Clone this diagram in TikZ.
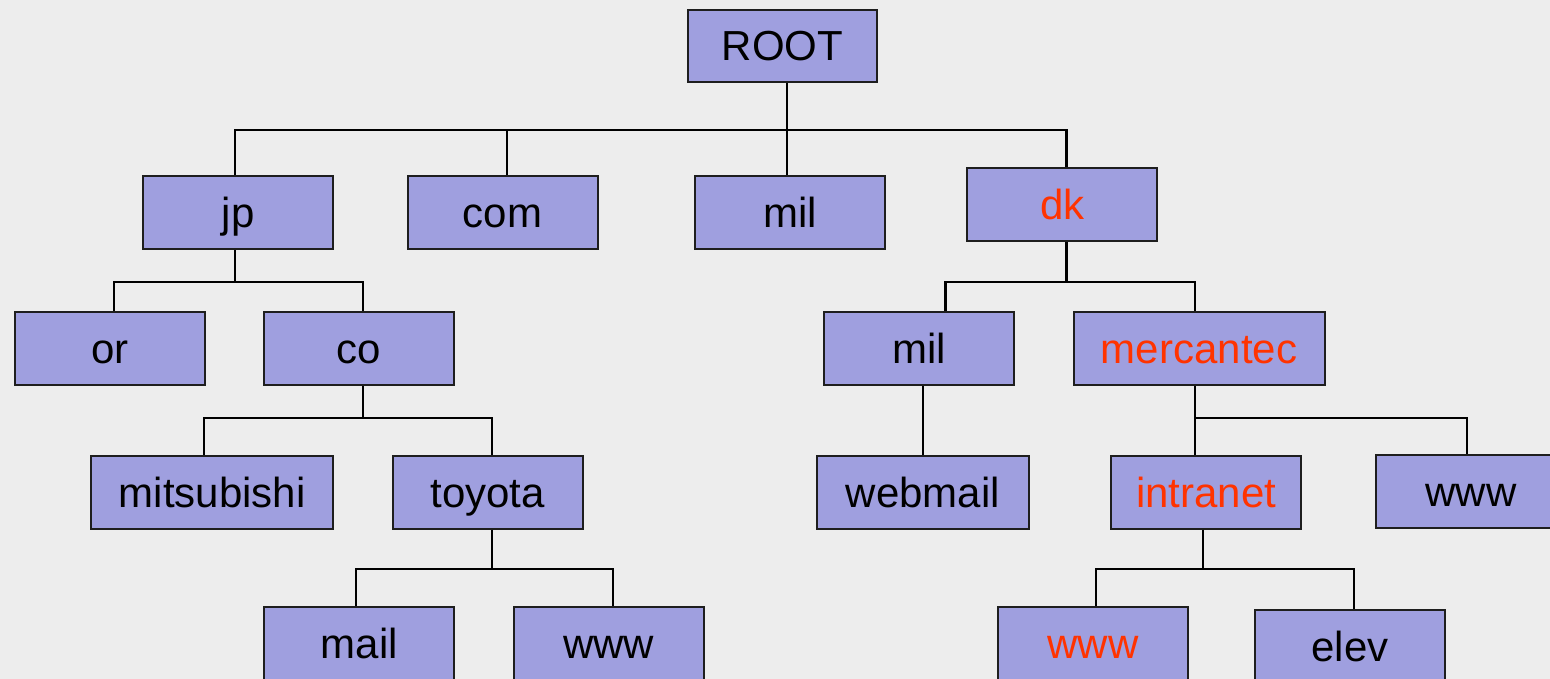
\documentclass[tikz,border=0pt]{standalone}
\usepackage{fontspec}
\setmainfont{Liberation Sans}
\definecolor{bgcol}{RGB}{237,237,237}
\definecolor{boxfill}{RGB}{159,159,223}
\definecolor{boxline}{RGB}{30,30,30}
\definecolor{hot}{RGB}{255,51,0}
\tikzset{
  dnsbox/.style={draw=boxline, line width=2pt, fill=boxfill, rectangle,
    minimum width=190pt, minimum height=73pt, inner sep=0pt,
    text height=30pt, text depth=0pt, font=\fontsize{42}{50}\selectfont},
  hl/.style={text=hot},
  link/.style={draw=black, line width=2.2pt}
}
\begin{document}
\begin{tikzpicture}[x=1pt,y=-1pt]
\useasboundingbox (0,0) rectangle (1550,679);
\clip (0,0) rectangle (1550,679);
\fill[bgcol] (0,0) rectangle (1550,679);

% nodes
\node[dnsbox, minimum width=189pt, minimum height=72pt] (root) at (782.5,46) {ROOT};
\node[dnsbox] (jp)   at (238.3,212.5) {jp};
\node[dnsbox] (com)  at (502.5,212.2) {com};
\node[dnsbox] (mila) at (790.3,212.1) {mil};
\node[dnsbox] (dk)   at (1062.3,204.7) {\textcolor{hot}{dk}};
\node[dnsbox] (or)   at (109.7,348.7) {or};
\node[dnsbox] (co)   at (359,348.7) {co};
\node[dnsbox, minimum width=242pt] (mits) at (212.2,492) {mitsubishi};
\node[dnsbox] (toyota) at (487.8,492) {toyota};
\node[dnsbox] (mail) at (359.2,643.8) {mail};
\node[dnsbox] (wwwa) at (608.8,643.8) {www};
\node[dnsbox] (milb) at (918.9,348.4) {mil};
\node[dnsbox, minimum width=251pt] (merc) at (1199,348.5) {\textcolor{hot}{mercantec}};
\node[dnsbox, minimum width=212pt] (webmail) at (922.7,492.2) {webmail};
\node[dnsbox] (intra) at (1206.3,492.2) {\textcolor{hot}{intranet}};
\node[dnsbox] (wwwb) at (1471,491.7) {www};
\node[dnsbox] (wwwc) at (1093,643.8) {\textcolor{hot}{www}};
\node[dnsbox] (elev) at (1350,646.2) {elev};

% root group
\coordinate (g1) at (786.7,130);
\coordinate (g1a) at (235,130);
\coordinate (g1b) at (507.3,130);
\coordinate (g1c) at (786.7,130);
\coordinate (g1d) at (1066.5,130);
\draw[link] (root.south -| g1) -- (g1);
\draw[link] (jp.north -| g1a) |- (g1d) -- (dk.north -| g1d);
\draw[link] (g1b) -- (com.north -| g1b);
\draw[link] (g1c) -- (mila.north -| g1c);

% jp group
\coordinate (g2) at (235,282.3);
\coordinate (g2a) at (114,282.3);
\coordinate (g2b) at (362.7,282.3);
\draw[link] (jp.south -| g2) -- (g2);
\draw[link] (or.north -| g2a) |- (g2b) -- (co.north -| g2b);

% co group
\coordinate (g3) at (363.3,418.3);
\coordinate (g3a) at (204,418.3);
\coordinate (g3b) at (492,418.3);
\draw[link] (co.south -| g3) -- (g3);
\draw[link] (mits.north -| g3a) |- (g3b) -- (toyota.north -| g3b);

% toyota group
\coordinate (g4) at (492,569);
\coordinate (g4a) at (355.7,569);
\coordinate (g4b) at (612.7,569);
\draw[link] (toyota.south -| g4) -- (g4);
\draw[link] (mail.north -| g4a) |- (g4b) -- (wwwa.north -| g4b);

% dk group
\coordinate (g5) at (1066.5,282);
\coordinate (g5a) at (945.4,282);
\coordinate (g5b) at (1195.2,282);
\draw[link] (dk.south -| g5) -- (g5);
\draw[link] (milb.north -| g5a) |- (g5b) -- (merc.north -| g5b);

% mil -> webmail
\coordinate (g6) at (923,420);
\draw[link] (milb.south -| g6) -- (webmail.north -| g6);

% mercantec group
\coordinate (g7) at (1195.2,417.7);
\coordinate (g7b) at (1467,417.7);
\draw[link] (merc.south -| g7) -- (intra.north -| g7);
\draw[link] (g7) -- (g7b) -- (wwwb.north -| g7b);

% intranet group
\coordinate (g8) at (1202.7,569);
\coordinate (g8a) at (1096,569);
\coordinate (g8b) at (1353.7,569);
\draw[link] (intra.south -| g8) -- (g8);
\draw[link] (wwwc.north -| g8a) |- (g8b) -- (elev.north -| g8b);
\end{tikzpicture}
\end{document}
